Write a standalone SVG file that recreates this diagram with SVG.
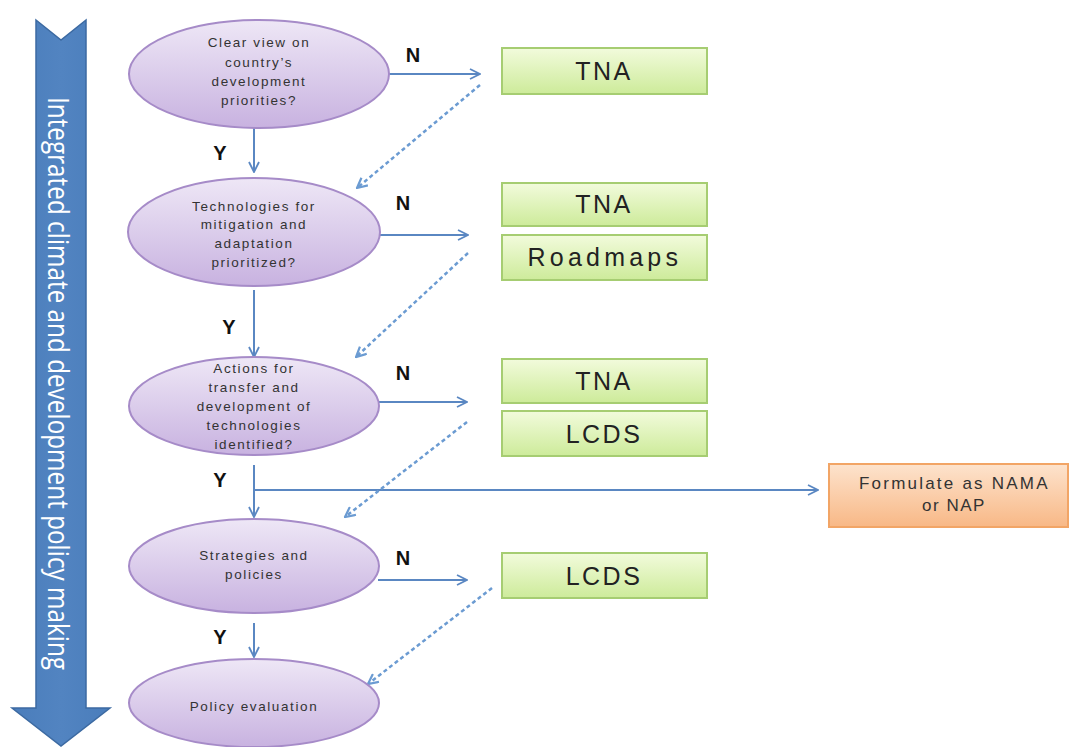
<svg xmlns="http://www.w3.org/2000/svg" width="1069" height="747" viewBox="0 0 1069 747">
<defs>
<style>
.ell{fill:url(#gE);stroke:#a68bc8;stroke-width:2}
.et{font-family:"Liberation Sans",Arial,sans-serif;font-size:13.5px;fill:#333333;text-anchor:middle;letter-spacing:1.6px}
.box{fill:url(#gG);stroke:#a6cd72;stroke-width:2}
.bt{font-family:"Liberation Sans",Arial,sans-serif;font-size:25px;fill:#222;text-anchor:middle;letter-spacing:2.5px}
.lab{font-family:"Liberation Sans",Arial,sans-serif;font-size:20px;font-weight:bold;fill:#111;text-anchor:middle}
.ln{stroke:#5a87c2;stroke-width:2;fill:none}
.ds{stroke:#6b9bd2;stroke-width:2.5;fill:none;stroke-dasharray:4 3}
</style>
<linearGradient id="gE" x1="0" y1="0" x2="0" y2="1"><stop offset="0" stop-color="#eee7f6"/><stop offset="1" stop-color="#c8b2e0"/></linearGradient>
<linearGradient id="gG" x1="0" y1="0" x2="0" y2="1"><stop offset="0" stop-color="#f2fbdc"/><stop offset="1" stop-color="#cdeb9a"/></linearGradient>
<linearGradient id="gO" x1="0" y1="0" x2="0" y2="1"><stop offset="0" stop-color="#fde3cd"/><stop offset="1" stop-color="#f8b886"/></linearGradient>
<linearGradient id="gA" x1="0" y1="0" x2="1" y2="0"><stop offset="0" stop-color="#4a7dbb"/><stop offset="0.5" stop-color="#5284c1"/><stop offset="1" stop-color="#4a7dbb"/></linearGradient>
<marker id="ah" viewBox="0 0 12 12" refX="11" refY="6" markerWidth="12" markerHeight="12" markerUnits="userSpaceOnUse" orient="auto"><path d="M1,1 L11,6 L1,11" fill="none" stroke="#5a87c2" stroke-width="1.8"/></marker>
<marker id="ahd" viewBox="0 0 12 12" refX="11" refY="6" markerWidth="12" markerHeight="12" markerUnits="userSpaceOnUse" orient="auto"><path d="M1,1 L11,6 L1,11" fill="none" stroke="#6b9bd2" stroke-width="2.2"/></marker>
</defs>
<rect width="1069" height="747" fill="#ffffff"/>

<g id="big-arrow">
<path d="M36,20 L61,40 L86,20 L86,708 L110,708 L61,746 L12,708 L36,708 Z" fill="url(#gA)" stroke="#3c6aa2" stroke-width="1.5"/>
<text transform="translate(48,97) rotate(90)" font-family="'Open Sans','Liberation Sans',sans-serif" font-size="30" fill="#ffffff" textLength="573" lengthAdjust="spacingAndGlyphs">Integrated climate and development policy making</text>
</g>

<g id="connectors">
<line class="ln" x1="389" y1="74" x2="480" y2="74" marker-end="url(#ah)"/>
<line class="ln" x1="380" y1="235" x2="468" y2="235" marker-end="url(#ah)"/>
<line class="ln" x1="378" y1="402" x2="467" y2="402" marker-end="url(#ah)"/>
<line class="ln" x1="378" y1="580" x2="467" y2="580" marker-end="url(#ah)"/>
<line class="ln" x1="254" y1="128" x2="254" y2="172" marker-end="url(#ah)"/>
<line class="ln" x1="254" y1="290" x2="254" y2="357" marker-end="url(#ah)"/>
<line class="ln" x1="254" y1="465" x2="254" y2="517" marker-end="url(#ah)"/>
<line class="ln" x1="254" y1="490" x2="818" y2="490" marker-end="url(#ah)"/>
<line class="ln" x1="254" y1="623" x2="254" y2="657" marker-end="url(#ah)"/>
<line class="ds" x1="480" y1="85" x2="357" y2="188" marker-end="url(#ahd)"/>
<line class="ds" x1="468" y1="253" x2="356" y2="357" marker-end="url(#ahd)"/>
<line class="ds" x1="467" y1="422" x2="345" y2="517" marker-end="url(#ahd)"/>
<line class="ds" x1="492" y1="588" x2="368" y2="684" marker-end="url(#ahd)"/>
<text class="lab" x="413" y="62">N</text>
<text class="lab" x="403" y="210">N</text>
<text class="lab" x="403" y="380">N</text>
<text class="lab" x="403" y="565">N</text>
<text class="lab" x="220" y="160">Y</text>
<text class="lab" x="229" y="334">Y</text>
<text class="lab" x="220" y="487">Y</text>
<text class="lab" x="220" y="644">Y</text>
</g>

<g id="q1">
<ellipse class="ell" cx="259" cy="74" rx="130" ry="54"/>
<text class="et" x="259" y="47">Clear view on</text>
<text class="et" x="259" y="67">country’s</text>
<text class="et" x="259" y="86">development</text>
<text class="et" x="259" y="105">priorities?</text>
</g>
<g id="q2">
<ellipse class="ell" cx="254" cy="232" rx="126" ry="54"/>
<text class="et" x="254" y="211">Technologies for</text>
<text class="et" x="254" y="229">mitigation and</text>
<text class="et" x="254" y="248">adaptation</text>
<text class="et" x="254" y="267">prioritized?</text>
</g>
<g id="q3">
<ellipse class="ell" cx="254" cy="406" rx="125" ry="49"/>
<text class="et" x="254" y="373">Actions for</text>
<text class="et" x="254" y="392">transfer and</text>
<text class="et" x="254" y="411">development of</text>
<text class="et" x="254" y="430">technologies</text>
<text class="et" x="254" y="449">identified?</text>
</g>
<g id="q4">
<ellipse class="ell" cx="254" cy="566" rx="125" ry="47"/>
<text class="et" x="254" y="560">Strategies and</text>
<text class="et" x="254" y="579">policies</text>
</g>
<g id="q5">
<ellipse class="ell" cx="254" cy="703" rx="125" ry="44"/>
<text class="et" x="254" y="711">Policy evaluation</text>
</g>

<g id="tna1"><rect class="box" x="502" y="48" width="205" height="46"/><text class="bt" x="604" y="80">TNA</text></g>
<g id="tna2"><rect class="box" x="502" y="183" width="205" height="43"/><text class="bt" x="604" y="213">TNA</text></g>
<g id="roadmaps"><rect class="box" x="502" y="235" width="205" height="45"/><text class="bt" x="604" y="266" textLength="153" lengthAdjust="spacing">Roadmaps</text></g>
<g id="tna3"><rect class="box" x="502" y="359" width="205" height="44"/><text class="bt" x="604" y="390">TNA</text></g>
<g id="lcds1"><rect class="box" x="502" y="411" width="205" height="45"/><text class="bt" x="604" y="443">LCDS</text></g>
<g id="lcds2"><rect class="box" x="502" y="553" width="205" height="45"/><text class="bt" x="604" y="585">LCDS</text></g>
<g id="nama">
<rect x="829" y="464" width="239" height="63" fill="url(#gO)" stroke="#f2a566" stroke-width="2"/>
<text class="et" x="954" y="489" style="font-size:17px;letter-spacing:1.5px" textLength="190" lengthAdjust="spacing">Formulate as NAMA</text>
<text class="et" x="954" y="511" style="font-size:17px;letter-spacing:1.5px">or NAP</text>
</g>
</svg>
